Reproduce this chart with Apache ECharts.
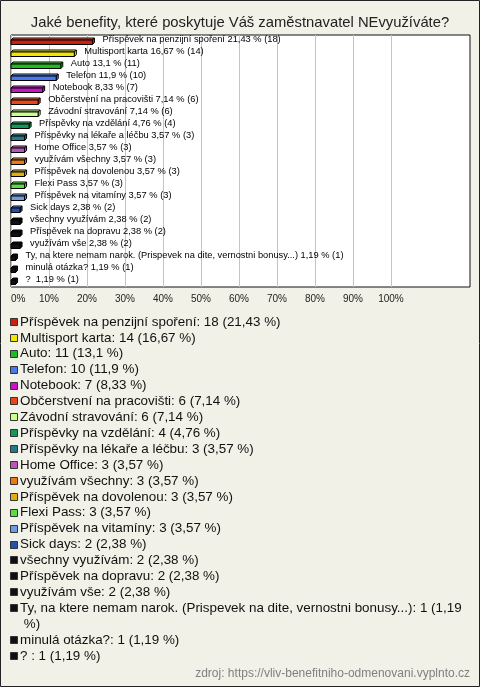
<!DOCTYPE html>
<html>
<head>
<meta charset="utf-8">
<script src="https://cdn.jsdelivr.net/npm/echarts@6/dist/echarts.min.js"></script>
<style>
html,body{margin:0;padding:0;background:#f2f1e8;}
#chart{width:480px;height:687px;}
</style>
</head>
<body>
<div id="chart"></div>
<script>
const titleText = 'Jaké benefity, které poskytuje Váš zaměstnavatel NEvyužíváte?';
const sourceText = 'zdroj: https://vliv-benefitniho-odmenovani.vyplnto.cz';
const categories = [
  'Příspěvek na penzijní spoření',
  'Multisport karta',
  'Auto',
  'Telefon',
  'Notebook',
  'Občerstvení na pracovišti',
  'Závodní stravování',
  'Příspěvky na vzdělání',
  'Příspěvky na lékaře a léčbu',
  'Home Office',
  'využívám všechny',
  'Příspěvek na dovolenou',
  'Flexi Pass',
  'Příspěvek na vitamíny',
  'Sick days',
  'všechny využívám',
  'Příspěvek na dopravu',
  'využívám vše',
  'Ty, na ktere nemam narok. (Prispevek na dite, vernostni bonusy...)',
  'minulá otázka?',
  '? '
];
const counts = [18, 14, 11, 10, 7, 6, 6, 4, 3, 3, 3, 3, 3, 3, 2, 2, 2, 2, 1, 1, 1];
const percents = [21.43, 16.67, 13.1, 11.9, 8.33, 7.14, 7.14, 4.76, 3.57, 3.57, 3.57, 3.57, 3.57, 3.57, 2.38, 2.38, 2.38, 2.38, 1.19, 1.19, 1.19];
const colors = [
  '#cc1f0e', '#f2e600', '#1fbb1f', '#4a78ee', '#c715c7', '#ee4514', '#ccff88',
  '#139a5a', '#237a8a', '#bb55bb', '#ee7a12', '#e0ad12', '#55e040', '#6f9be0',
  '#2452b0', '#111111', '#111111', '#111111', '#111111', '#111111', '#111111'
];
const xTickValues = [0, 10, 20, 30, 40, 50, 60, 70, 80, 90, 100];

const fmt = v => String(v).replace('.', ',');
const FONT = '"Liberation Sans", Arial, sans-serif';

function lighten(hex, f) {
  const n = parseInt(hex.slice(1), 16);
  let r = (n >> 16) & 255, g = (n >> 8) & 255, b = n & 255;
  r = Math.round(r + (255 - r) * f); g = Math.round(g + (255 - g) * f); b = Math.round(b + (255 - b) * f);
  return 'rgb(' + r + ',' + g + ',' + b + ')';
}

function renderItem(params, api) {
  const idx = api.value(1);
  const v = api.value(0);
  const p0 = api.coord([0, idx]);
  const p1 = api.coord([v, idx]);
  const x0 = p0[0], x1 = p1[0], yc = p0[1];
  const h = 4.5, d = 2;
  const yt = yc - 1;
  const col = colors[idx];
  const topCol = col === '#111111' ? '#111111' : lighten(col, 0.35);
  return {
    type: 'group',
    children: [
      { type: 'polygon', shape: { points: [[x0, yt], [x0 + d, yt - d], [x1 + d, yt - d], [x1, yt]] },
        style: { fill: topCol, stroke: '#000', lineWidth: 1 } },
      { type: 'polygon', shape: { points: [[x1, yt], [x1 + d, yt - d], [x1 + d, yt - d + h], [x1, yt + h]] },
        style: { fill: col, stroke: '#000', lineWidth: 1 } },
      { type: 'rect', shape: { x: x0, y: yt, width: x1 - x0, height: h },
        style: { fill: col, stroke: '#000', lineWidth: 1 } },
      { type: 'text', x: x1 + 10, y: yc - 1.5,
        style: { text: categories[idx] + ' ' + fmt(percents[idx]) + ' % (' + counts[idx] + ')',
          font: '9.3px ' + FONT, fill: '#000', verticalAlign: 'middle', align: 'left' } }
    ]
  };
}

// Legend built from data arrays
const LEG_FONT = '13.4px ' + FONT;
const canvas = document.createElement('canvas');
const ctx = canvas.getContext('2d');
ctx.font = LEG_FONT;
const legendWidth = 448;
const lineH = 15.9;
const legendChildren = [];
let ly = 322;
for (let i = 0; i < categories.length; i++) {
  const txt = categories[i] + ': ' + counts[i] + ' (' + fmt(percents[i]) + ' %)';
  legendChildren.push({ type: 'rect', shape: { x: 10.5, y: Math.round(ly) - 3.5, width: 7, height: 7 },
    style: { fill: colors[i], stroke: '#333', lineWidth: 1 } });
  legendChildren.push({ type: 'text', x: 20, y: ly - lineH / 2,
    style: { text: txt, font: LEG_FONT, fill: '#111', width: legendWidth, overflow: 'break',
      lineHeight: lineH, verticalAlign: 'top', align: 'left' } });
  const lines = ctx.measureText(txt).width > legendWidth ? 2 : 1;
  ly += lines * lineH;
}

const chart = echarts.init(document.getElementById('chart'), null, { renderer: 'canvas' });
chart.setOption({
  backgroundColor: '#f2f1e8',
  animation: false,
  title: {
    text: titleText, left: 'center', top: 10,
    textStyle: { fontFamily: FONT, fontSize: 14.8, fontWeight: 'normal', color: '#222' }
  },
  grid: {
    left: 11, top: 35, width: 459, height: 252,
    show: true, backgroundColor: '#ffffff', borderColor: '#111', borderWidth: 1
  },
  xAxis: {
    type: 'value', min: 0, max: 120.8, interval: 10,
    axisLine: { show: false }, axisTick: { show: false },
    axisLabel: {
      fontFamily: FONT, fontSize: 10, color: '#222', margin: 7,
      alignMinLabel: 'left', showMaxLabel: true,
      formatter: v => (xTickValues.indexOf(v) >= 0 ? v + '%' : '')
    },
    splitLine: { show: true, lineStyle: { color: xTickValues.map(() => '#c4c4c4').concat(['rgba(0,0,0,0)', 'rgba(0,0,0,0)', 'rgba(0,0,0,0)']), width: 1 } }
  },
  yAxis: {
    type: 'category', data: categories, inverse: true,
    axisLine: { show: false }, axisTick: { show: false }, axisLabel: { show: false }, splitLine: { show: false }
  },
  series: [{
    type: 'custom',
    renderItem: renderItem,
    encode: { x: 0, y: 1 },
    data: percents.map((p, i) => [p, i]),
    clip: false,
    z: 5
  }],
  graphic: [
    { type: 'group', children: legendChildren },
    { type: 'text', right: 10, top: 668,
      style: { text: sourceText, font: '12px ' + FONT, fill: '#808080' } },
    { type: 'rect', shape: { x: 0.5, y: 0.5, width: 479, height: 686 },
      style: { fill: 'none', stroke: '#222', lineWidth: 1 }, z: 100 }
  ]
});
</script>
</body>
</html>
